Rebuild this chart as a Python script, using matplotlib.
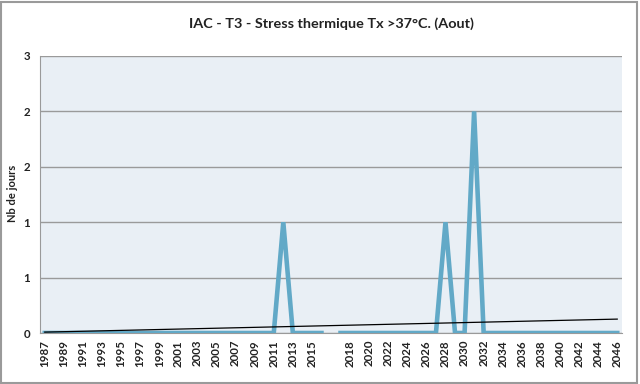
import numpy as np
import matplotlib
matplotlib.use("Agg")
import matplotlib.pyplot as plt
from matplotlib.patches import Rectangle

plt.rcParams['font.family'] = ['Lato', 'DejaVu Sans']

years_a = list(range(1987, 2017))
years_b = list(range(2017, 2047))
categories = [str(y) for y in years_a] + [""] + [str(y) for y in years_b]

values_a = [0]*25 + [1] + [0]*4          # 1987-2016
values_b = [0]*11 + [1, 0, 0, 2] + [0]*15  # 2017-2046
values = values_a + [np.nan] + values_b

ytick_vals = [0, 0.5, 1, 1.5, 2, 2.5]
ytick_labels = ["0", "1", "1", "2", "2", "3"]

title = "IAC - T3 - Stress thermique Tx >37°C. (Aout)"
ylabel = "Nb de jours"

fig = plt.figure(figsize=(6.4, 3.84), dpi=100)
ax = fig.add_axes([40/640, 1-333/384, 582/640, (333-56)/384])
ax.set_facecolor('#E9EFF5')

x = np.arange(len(categories))
y = np.array(values, dtype=float)
ax.plot(x, y, color='#62A9C7', lw=3.3, solid_joinstyle='miter', zorder=3)

# linear trendline
mask = ~np.isnan(y)
coef = np.polyfit(x[mask], y[mask], 1)
ax.plot([x[0], x[-1]], np.polyval(coef, [x[0], x[-1]]), color='black', lw=0.9, zorder=4)

ax.set_xlim(-0.5, len(categories) - 0.5)
ax.set_ylim(0, 2.5)
ax.set_yticks(ytick_vals)
ax.set_yticklabels(ytick_labels)
ax.yaxis.grid(True, color='#9A9A9A', lw=1.0)
ax.set_axisbelow(True)

tick_pos = [i for i in range(0, len(categories), 2) if categories[i] != ""]
ax.set_xticks(tick_pos)
ax.set_xticklabels([categories[i] for i in tick_pos], rotation=90)

for lab in ax.get_xticklabels() + ax.get_yticklabels():
    lab.set_fontsize(8.3)
    lab.set_fontweight('bold')
    lab.set_color('#222222')
ax.tick_params(axis='x', length=0, pad=5)
ax.tick_params(axis='y', length=0, pad=7)

for s in ['top', 'right']:
    ax.spines[s].set_visible(False)
ax.spines['left'].set_color('#9A9A9A')
ax.spines['bottom'].set_color('#9A9A9A')

fig.text(13/640, 1-193/384, ylabel, rotation=90, ha='center', va='center',
         fontsize=8, fontweight='bold', color='#222222')
fig.text(331/640, 1-24/384, title, ha='center', va='center',
         fontsize=10.4, fontweight='bold', color='#222222')

fig.patches.append(Rectangle((0.002, 0.003), 0.994, 0.993, transform=fig.transFigure,
                             fill=False, edgecolor='#9A9A9A', lw=1.5))

fig.savefig('out.png', dpi=100)
